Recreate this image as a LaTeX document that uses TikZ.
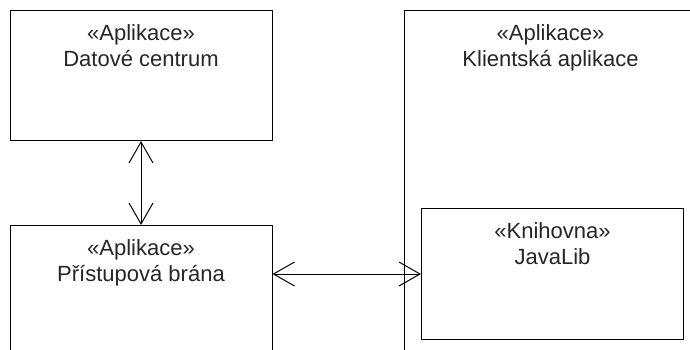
\documentclass[tikz,border=0pt]{standalone}
\usepackage{fontspec}
\setmainfont{Liberation Sans}
\usetikzlibrary{positioning}
\usetikzlibrary{arrows.meta}

\tikzset{
  box/.style={draw=black, line width=1pt, fill=white, anchor=north west, inner sep=0pt},
  stereo/.style={align=center, inner sep=0pt, text=black!85, font=\fontsize{22}{26}\selectfont},
  link/.style={line width=1pt, {Straight Barb[length=21pt,width=24pt]}-{Straight Barb[length=21pt,width=24pt]}}
}

\begin{document}
\begin{tikzpicture}[x=1pt, y=-1pt]

  \useasboundingbox (0,0) rectangle (690,349);
  \clip (0,0) rectangle (690,349);

  % Datove centrum
  \node[box, minimum width=262pt, minimum height=130pt] (dc) at (9.5,10) {};
  \node[stereo, below=14pt of dc.north] (dctext) {«Aplikace»\\Datové centrum};

  % Pristupova brana (runs off the bottom)
  \node[box, minimum width=262pt, minimum height=140pt] (gate) at (9.5,225) {};
  \node[stereo, below=14pt of gate.north] (gatetext) {«Aplikace»\\Přístupová brána};

  % Klientska aplikace with the library inside
  \node[box, minimum width=292pt, minimum height=360pt] (client) at (404,10) {};
  \node[stereo, below=14pt of client.north] (clienttext) {«Aplikace»\\Klientská aplikace};

  \node[box, minimum width=262pt, minimum height=131pt] (javalib) at (421,208) {};
  \node[stereo, below=14pt of javalib.north] (javalibtext) {«Knihovna»\\JavaLib};

  % links
  \draw[link] (dc.south) -- (gate.north);
  \draw[link] (gate.east |- javalib.west) -- (javalib.west);

\end{tikzpicture}
\end{document}
